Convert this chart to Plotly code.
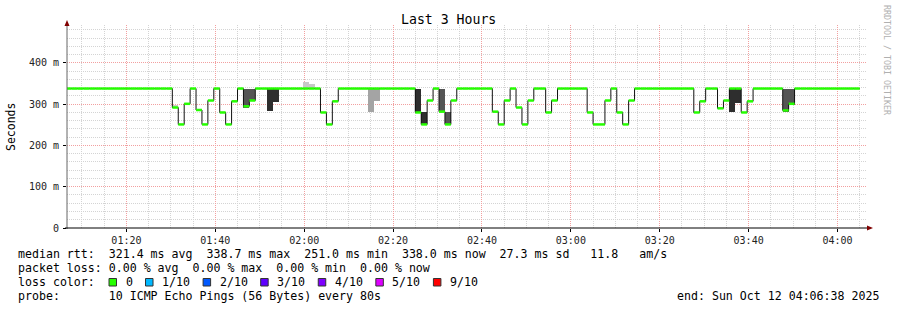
import plotly.graph_objects as go
import pandas as pd

# ---------------- data ----------------
RANGE_START = "2025-10-12 01:06:38"
RANGE_END = "2025-10-12 04:06:38"
FIRST_STEP = "2025-10-12 01:06:20"   # start of first 80 s step
STEP_SECONDS = 80

# median rtt per 80 s step (ms)
median_ms = [
    338, 338, 338, 338, 338, 338, 338, 338, 338, 338, 338, 338, 338, 338, 338, 338, 338, 338,
    292, 251, 301, 338, 286, 251, 309, 338, 280, 251, 307, 338, 295, 309,
    338, 338, 338, 338, 338, 338, 338, 338, 338, 338, 338,
    280, 251, 307,
    338, 338, 338, 338, 338, 338, 338, 338, 338, 338, 338, 338, 338,
    280, 251, 309, 338, 282, 251, 309,
    338, 338, 338, 338, 338, 338,
    282, 251, 309, 338, 292, 251, 309, 338, 338, 280, 309,
    338, 338, 338, 338, 338,
    280, 251, 251, 309, 338, 280, 251, 309,
    338, 338, 338, 338, 338, 338, 338, 338, 338, 338,
    280, 307, 338, 338, 290, 309, 338, 338, 280, 307,
    338, 338, 338, 338, 338,
    285, 301,
    338, 338, 338, 338, 338, 338, 338, 338, 338, 338, 338,
]

# smoke (spread of the pings) for the steps where it is visible
smoke_step = [18, 30, 31, 34, 35, 40, 41, 51, 52, 59, 60, 63, 64, 112, 113, 121, 122]
smoke_lo = [292, 291, 309, 284, 306, 338, 338, 282, 309, 280, 251, 282, 251, 280, 302, 280, 299]
smoke_hi = [298, 338, 338, 338, 338, 354, 349, 338, 338, 338, 280, 338, 282, 338, 338, 338, 338]
smoke_density = [1, 3, 3, 4, 4, 1, 1, 2, 2, 4, 4, 3, 3, 4, 4, 3, 3]

y_tick_vals = [0, 100, 200, 300, 400]
y_tick_text = ["0", "100 m", "200 m", "300 m", "400 m"]

title_text = "Last 3 Hours"
y_title = "Seconds"
legend_lines = [
    "median rtt:  321.4 ms avg  338.7 ms max  251.0 ms min  338.0 ms now  27.3 ms sd   11.8   am/s",
    "packet loss: 0.00 % avg  0.00 % max  0.00 % min  0.00 % now",
]
loss_labels = ["0", "1/10", "2/10", "3/10", "4/10", "5/10", "9/10"]
loss_colors = ["#26ff00", "#00b8ff", "#0059ff", "#5e00ff", "#7e00ff", "#dd00ff", "#ff0000"]
probe_text = "probe:       10 ICMP Echo Pings (56 Bytes) every 80s"
end_text = "end: Sun Oct 12 04:06:38 2025"
watermark = "RRDTOOL / TOBI OETIKER"

# ---------------- geometry ----------------
W, H = 897, 310
L, R, T, B = 67, 30, 25, 82
PW, PH = W - L - R, H - T - B
Y_MAX = 492
MONO = "DejaVu Sans Mono"


def px_x(px):
    return (px - L) / PW


def px_y(py):
    return (H - B - py) / PH


step = pd.Timedelta(seconds=STEP_SECONDS)
t_first = pd.Timestamp(FIRST_STEP)
starts = [t_first + i * step for i in range(len(median_ms))]
ends = [s + step for s in starts]

fig = go.Figure()

# smoke
shade = {1: "#c8c8c8", 2: "#a4a4a4", 3: "#555555", 4: "#2e2e2e"}
fig.add_trace(go.Bar(
    x=[starts[i] + step / 2 for i in smoke_step],
    y=[h - l for l, h in zip(smoke_lo, smoke_hi)],
    base=smoke_lo,
    width=STEP_SECONDS * 1000,
    marker=dict(color=[shade[d] for d in smoke_density], line=dict(width=0)),
    hoverinfo="skip", showlegend=False,
))

# black median step line
fig.add_trace(go.Scatter(
    x=starts + [ends[-1]], y=median_ms + [median_ms[-1]],
    mode="lines", line=dict(color="#111111", width=1, shape="hv"),
    hoverinfo="skip", showlegend=False,
))

# green median bars (loss 0)
gx, gy = [], []
for s, e, m in zip(starts, ends, median_ms):
    gx += [s, e, None]
    gy += [m, m, None]
fig.add_trace(go.Scatter(
    x=gx, y=gy, mode="lines", line=dict(color="#26ff00", width=2.5),
    hoverinfo="skip", showlegend=False,
))

major_grid = "#f2a0a0"
minor_grid = "#d4d4d4"

fig.update_layout(
    width=W, height=H,
    margin=dict(l=L, r=R, t=T, b=B, pad=0),
    paper_bgcolor="white", plot_bgcolor="white",
    bargap=0,
    font=dict(family=MONO, color="#000000"),
    xaxis=dict(
        type="date", range=[RANGE_START, RANGE_END],
        tick0="2025-10-12 00:00:00", dtick=20 * 60 * 1000, tickformat="%H:%M",
        showgrid=True, gridcolor=major_grid, griddash="1px,1px", gridwidth=1,
        minor=dict(dtick=5 * 60 * 1000, showgrid=True, gridcolor=minor_grid,
                   griddash="1px,1px", gridwidth=1),
        ticks="outside", ticklen=3, tickcolor="#000000",
        tickfont=dict(family=MONO, size=10, color="#222222"),
        showline=False, zeroline=False, fixedrange=True,
    ),
    yaxis=dict(
        range=[0, Y_MAX], tickvals=y_tick_vals, ticktext=y_tick_text,
        showgrid=True, gridcolor=major_grid, griddash="1px,1px", gridwidth=1,
        minor=dict(dtick=20, showgrid=True, gridcolor=minor_grid,
                   griddash="1px,1px", gridwidth=1),
        ticks="outside", ticklen=3, tickcolor="#000000",
        tickfont=dict(family=MONO, size=10, color="#222222"),
        ticklabelstandoff=2,
        showline=False, zeroline=False, fixedrange=True,
    ),
)

# axes with arrows
axis_shapes = [
    dict(type="line", xref="paper", yref="paper", x0=0, x1=0,
         y0=px_y(H - B + 1), y1=px_y(24), line=dict(color="#666666", width=1)),
    dict(type="line", xref="paper", yref="paper", x0=px_x(L - 2), x1=px_x(868),
         y0=0, y1=0, line=dict(color="#000000", width=1)),
    dict(type="path", xref="paper", yref="paper",
         path=f"M {px_x(64.5)} {px_y(26)} L {px_x(69.5)} {px_y(26)} L {px_x(67)} {px_y(20)} Z",
         fillcolor="#800000", line=dict(color="#800000", width=0)),
    dict(type="path", xref="paper", yref="paper",
         path=f"M {px_x(867)} {px_y(225.5)} L {px_x(867)} {px_y(230.5)} L {px_x(873)} {px_y(228)} Z",
         fillcolor="#800000", line=dict(color="#800000", width=0)),
]
for s in axis_shapes:
    fig.add_shape(**s)

NB = "\u00a0"


def nb(s):
    return s.replace(" ", NB)


ann = []
ann.append(dict(text=title_text, x=px_x(448), y=px_y(19.5), xanchor="center", yanchor="middle",
                font=dict(family=MONO, size=13.2, color="#000000")))
ann.append(dict(text=y_title, x=px_x(11), y=px_y(127), xanchor="center", yanchor="middle",
                textangle=-90, font=dict(family=MONO, size=11.5, color="#000000")))
ann.append(dict(text=nb(watermark), x=px_x(887), y=px_y(60), xanchor="center", yanchor="middle",
                textangle=90, font=dict(family=MONO, size=8.3, color="#b0b0b0")))

CW = 7.02
FS = 11.6
line_y = [254, 268, 282, 296]
for txt, yy in zip(legend_lines, line_y[:2]):
    ann.append(dict(text=nb(txt), x=px_x(16), y=px_y(yy), xanchor="left", yanchor="middle",
                    font=dict(family=MONO, size=FS, color="#000000")))
ann.append(dict(text=nb("loss color:"), x=px_x(16), y=px_y(line_y[2]), xanchor="left",
                yanchor="middle", font=dict(family=MONO, size=FS, color="#000000")))
bx = 109.0
for lab, col in zip(loss_labels, loss_colors):
    fig.add_shape(type="rect", xref="paper", yref="paper",
                  x0=px_x(bx), x1=px_x(bx + 7.5), y0=px_y(line_y[2] + 4), y1=px_y(line_y[2] - 3.5),
                  fillcolor=col, line=dict(color="#333333", width=1))
    lx = bx + 14.6
    ann.append(dict(text=lab, x=px_x(lx), y=px_y(line_y[2]), xanchor="left", yanchor="middle",
                    font=dict(family=MONO, size=FS, color="#000000")))
    bx = lx + len(lab) * CW + 14.9
ann.append(dict(text=nb(probe_text), x=px_x(16), y=px_y(line_y[3]), xanchor="left",
                yanchor="middle", font=dict(family=MONO, size=FS, color="#000000")))
ann.append(dict(text=nb(end_text), x=px_x(880.5), y=px_y(line_y[3]), xanchor="right",
                yanchor="middle", font=dict(family=MONO, size=FS, color="#000000")))

for a in ann:
    a.update(xref="paper", yref="paper", showarrow=False)
    fig.add_annotation(**a)

fig.write_html("out.html")
